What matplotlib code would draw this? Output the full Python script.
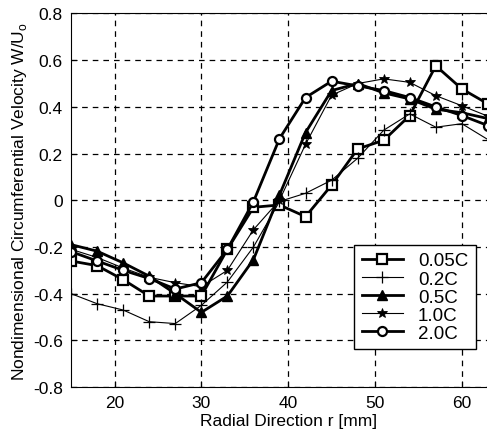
import matplotlib
matplotlib.use('Agg')
import matplotlib.pyplot as plt

plt.rcParams['font.family'] = ['Liberation Sans', 'DejaVu Sans']
plt.rcParams['mathtext.fontset'] = 'custom'
plt.rcParams['mathtext.rm'] = 'Liberation Sans'

# Datos
r = [15, 18, 21, 24, 27, 30, 33, 36, 39, 42, 45, 48, 51, 54, 57, 60, 63]
v_005 = [-0.26, -0.28, -0.34, -0.41, -0.41, -0.41, -0.21, -0.03, -0.02, -0.07,
         0.065, 0.22, 0.257, 0.363, 0.576, 0.477, 0.413]
v_02 = [-0.40, -0.443, -0.47, -0.52, -0.528, -0.45, -0.35, -0.20, -0.005, 0.03,
        0.086, 0.18, 0.30, 0.37, 0.313, 0.328, 0.26]
v_05 = [-0.19, -0.218, -0.268, -0.325, -0.40, -0.48, -0.41, -0.254, 0.023, 0.29,
        0.47, 0.50, 0.46, 0.434, 0.39, 0.375, 0.35]
v_10 = [-0.21, -0.245, -0.29, -0.33, -0.353, -0.37, -0.30, -0.126, 0.0, 0.24,
        0.45, 0.50, 0.52, 0.505, 0.448, 0.405, 0.36]
v_20 = [-0.22, -0.26, -0.30, -0.335, -0.38, -0.353, -0.21, -0.006, 0.264, 0.44,
        0.51, 0.49, 0.47, 0.44, 0.40, 0.363, 0.32]
etiquetas = ['0.05C', '0.2C', '0.5C', '1.0C', '2.0C']

fig = plt.figure(figsize=(4.87, 4.39), dpi=100)
# el eje sigue mas alla del borde derecho, como en la figura recortada
ax = fig.add_axes([0.146, 0.116, 1.0375 - 0.146, 0.851])

ax.plot(r, v_005, color='black', lw=2.0, marker='s', ms=6.5, mfc='white', mew=1.6, label=etiquetas[0])
ax.plot(r, v_02, color='black', lw=0.8, marker='+', ms=8, mew=0.9, label=etiquetas[1])
ax.plot(r, v_05, color='black', lw=2.0, marker='^', ms=7.5, mfc='black', label=etiquetas[2])
ax.plot(r, v_10, color='black', lw=0.8, marker='*', ms=7, mew=0.6, label=etiquetas[3])
ax.plot(r, v_20, color='black', lw=2.0, marker='o', ms=6.5, mfc='white', mew=1.6, label=etiquetas[4])

ax.set_xlim(15, 65)
ax.set_ylim(-0.8, 0.8)
ax.set_xticks([20, 30, 40, 50, 60])
ax.set_yticks([-0.8, -0.6, -0.4, -0.2, 0, 0.2, 0.4, 0.6, 0.8])
ax.set_yticklabels(['-0.8', '-0.6', '-0.4', '-0.2', '0', '0.2', '0.4', '0.6', '0.8'])
ax.tick_params(direction='in', length=4, labelsize=12.5, colors='black', pad=6)
ax.grid(True, color='black', linestyle=(0, (4.5, 4)), linewidth=0.9)

ax.set_xlabel('Radial Direction r [mm]', fontsize=12.5, labelpad=2)
ax.set_ylabel(r'Nondimensional Circumferential Velocity W/U$_\mathrm{o}$', fontsize=12.5, labelpad=3)

leg = ax.legend(loc='upper left', bbox_to_anchor=(0.727, 0.44), bbox_transform=fig.transFigure,
                fancybox=False, edgecolor='black', framealpha=1, fontsize=13.5,
                handlelength=2.2, labelspacing=0.05, borderaxespad=0, borderpad=0.4)
leg.get_frame().set_linewidth(1.0)

fig.savefig('out.png', dpi=100)
